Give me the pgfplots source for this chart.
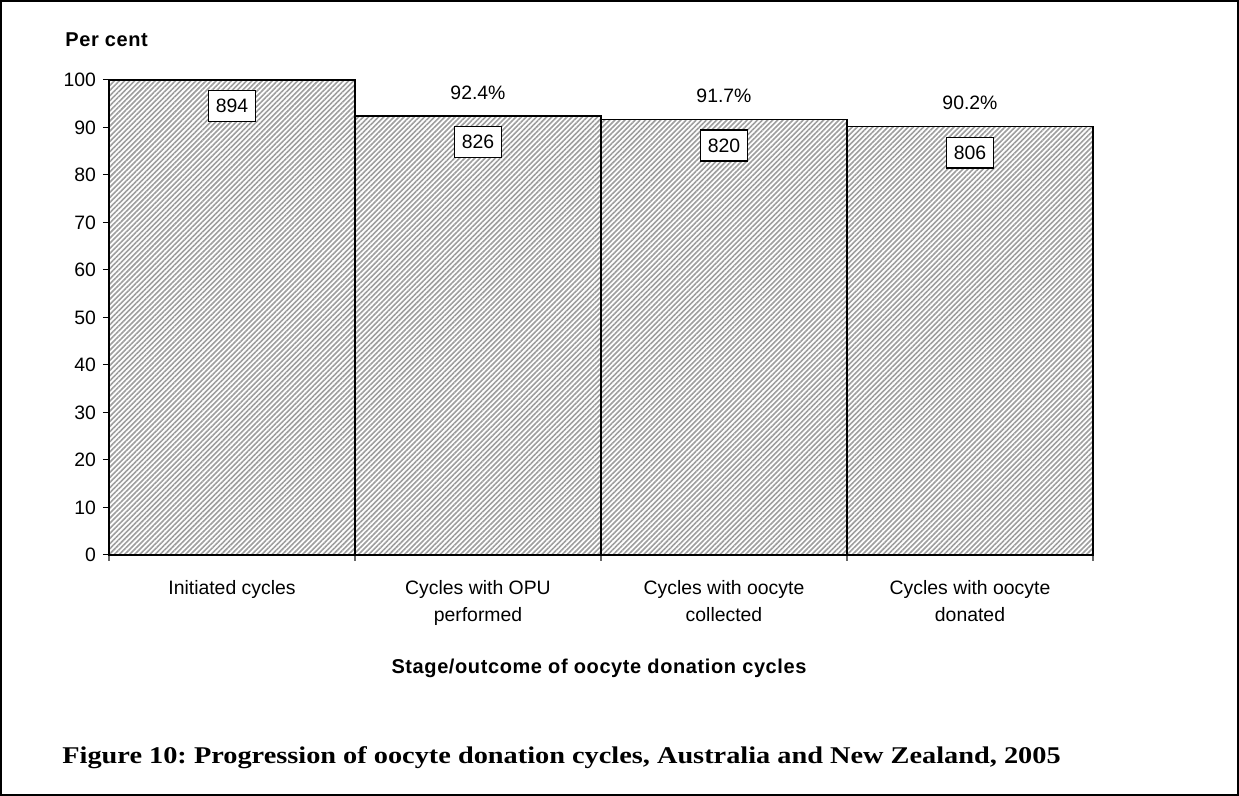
\documentclass[border=0pt]{standalone}
\usepackage{pgfplots}
\pgfplotsset{compat=1.18}
\usepackage{fontspec}
\setmainfont{Liberation Sans}
\newfontfamily\lsfont[LetterSpace=3]{Liberation Sans}
\newfontfamily\capfont[FakeStretch=1.18]{Liberation Serif}
\usetikzlibrary{patterns.meta}
\pgfplotstableread{
x y n
1 100 894
2 92.4 826
3 91.7 820
4 90.2 806
}\bars
\pgfplotstableread{
x y p
2 92.4 92.4\%
3 91.7 91.7\%
4 90.2 90.2\%
}\pcts
\begin{document}
\begin{tikzpicture}
\useasboundingbox (0,0) rectangle (619.5pt,398pt);
\draw[line width=1pt] (0.5pt,0.5pt) rectangle (619pt,397.5pt);
\begin{axis}[
  at={(54.5pt,120.5pt)}, anchor=south west,
  scale only axis, width=492pt, height=237.5pt,
  xmin=0.5, xmax=4.5, ymin=0, ymax=100,
  axis lines*=left,
  axis line style={line width=0.75pt},
  ytick={0,10,...,100},
  xtick={1,2,3,4},
  xticklabels={Initiated cycles,{Cycles with OPU\\performed},{Cycles with oocyte\\collected},{Cycles with oocyte\\donated}},
  minor xtick={0.5,1.5,2.5,3.5,4.5},
  major x tick style={draw=none},
  minor x tick style={black!60, line width=0.6pt},
  tick align=outside,
  major tick length=3pt, minor tick length=3pt,
  tick style={black, line width=0.5pt},
  /pgf/number format/assume math mode=true,
  tick label style={font=\fontsize{9.7}{13.5}\selectfont},
  xticklabel style={align=center, anchor=north, yshift=-6pt},
  clip=false,
]
\addplot[ybar, bar width=1, bar shift=0pt, draw=black, line width=0.75pt,
  preaction={fill=white},
  pattern={Lines[angle=45,distance=1.8pt,line width=0.8pt]}, pattern color=black!38,
  nodes near coords, point meta=explicit symbolic,
  nodes near coords style={anchor=north, yshift=-5pt, draw=black, line width=0.6pt, fill=white, inner xsep=3.5pt, inner ysep=4.3pt, font=\fontsize{9.7}{11}\selectfont, text=black}]
  table[x=x, y=y, meta=n] {\bars};
\addplot[draw=none, mark=none, nodes near coords, point meta=explicit symbolic,
  nodes near coords style={anchor=base, yshift=8.5pt, inner sep=0pt, font=\fontsize{9.7}{11}\selectfont, text=black}]
  table[x=x, y=y, meta=p] {\pcts};
\end{axis}
\node[anchor=west, inner sep=0pt, font=\lsfont\bfseries\fontsize{10}{12}\selectfont] at (32.5pt,378pt) {Per cent};
\node[font=\lsfont\bfseries\fontsize{10}{12}\selectfont, inner sep=0pt] at (299.5pt,64pt) {Stage/outcome of oocyte donation cycles};
\node[anchor=base west, inner sep=0pt, font=\capfont\bfseries\fontsize{12}{14}\selectfont] at (31pt,16pt) {\frenchspacing Figure 10: Progression of oocyte donation cycles, Australia and New Zealand, 2005};
\end{tikzpicture}
\end{document}
